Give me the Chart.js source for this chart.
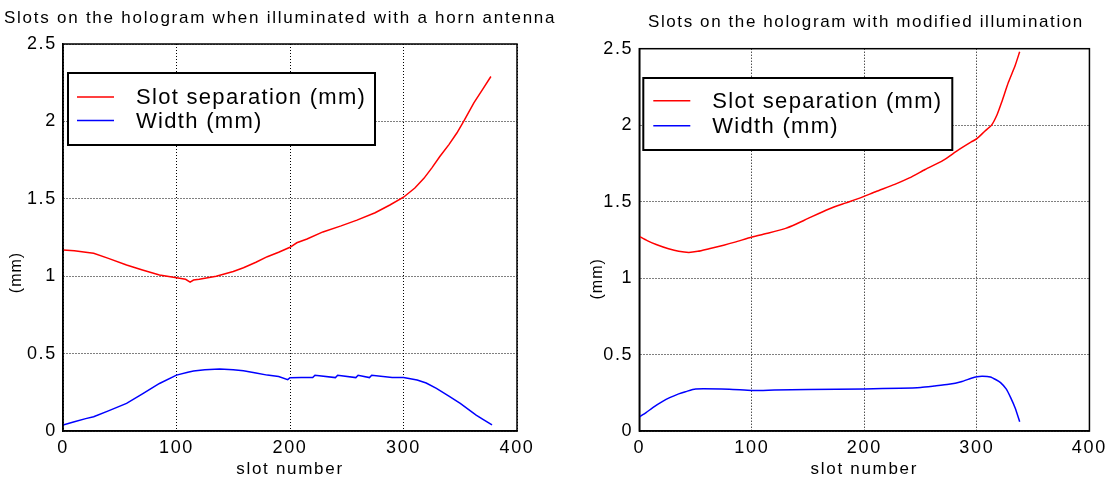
<!DOCTYPE html>
<html>
<head>
<meta charset="utf-8">
<script src="https://cdn.jsdelivr.net/npm/chart.js@4"></script>
<style>
    html, body { margin: 0; padding: 0; background: #fff; }
    #wrap { position: relative; width: 1113px; height: 478px; }
    .box { position: absolute; top: 0; height: 478px; }
</style>
</head>
<body>
<div id="wrap">
    <div class="box" style="left:0;width:560px"><canvas id="leftChart"></canvas></div>
    <div class="box" style="left:560px;width:553px"><canvas id="rightChart"></canvas></div>
</div>
<script>
// ---- data ----
const xTicks = [0, 100, 200, 300, 400];
const yTicks = [0, 0.5, 1, 1.5, 2, 2.5];

// left: horn antenna
const hornSepSlots = [0, 10, 20, 27, 40, 56, 70, 85, 100, 108, 112, 115, 120, 135, 150, 159, 170, 180, 190, 200, 206, 215, 229, 245, 259, 275, 288, 300, 310, 318, 325, 332, 340, 347, 353, 362, 370, 377];
const hornSep = [1.17, 1.165, 1.155, 1.148, 1.115, 1.072, 1.04, 1.008, 0.99, 0.98, 0.962, 0.975, 0.98, 1.0, 1.03, 1.055, 1.09, 1.126, 1.155, 1.187, 1.216, 1.24, 1.286, 1.325, 1.362, 1.41, 1.46, 1.51, 1.57, 1.632, 1.70, 1.773, 1.85, 1.925, 2.0, 2.12, 2.21, 2.29];
const hornWidthSlots = [0, 10, 20, 27, 40, 56, 70, 85, 100, 110, 115, 125, 138, 150, 159, 170, 180, 190, 198, 200, 210, 220, 222, 240, 242, 258, 260, 270, 272, 290, 300, 312, 320, 329, 340, 350, 364, 370, 378];
const hornWidth = [0.039, 0.06, 0.08, 0.092, 0.13, 0.178, 0.24, 0.307, 0.361, 0.38, 0.387, 0.395, 0.40, 0.396, 0.389, 0.375, 0.361, 0.352, 0.332, 0.344, 0.345, 0.345, 0.36, 0.345, 0.36, 0.345, 0.36, 0.345, 0.36, 0.345, 0.345, 0.329, 0.31, 0.275, 0.225, 0.178, 0.103, 0.075, 0.039];

// right: modified illumination
const modSepSlots = [0, 7, 15, 26, 35, 44, 52, 62, 75, 85, 100, 115, 130, 139, 150, 168, 183, 197, 210, 227, 240, 254, 270, 283, 295, 300, 307, 313, 318, 322, 328, 334, 338];
const modSep = [1.273, 1.245, 1.22, 1.192, 1.175, 1.168, 1.175, 1.192, 1.215, 1.235, 1.268, 1.295, 1.325, 1.352, 1.39, 1.45, 1.49, 1.526, 1.565, 1.613, 1.655, 1.71, 1.77, 1.835, 1.89, 1.912, 1.96, 2.0, 2.07, 2.15, 2.28, 2.39, 2.48];
const modWidthSlots = [0, 6, 12, 20, 27, 35, 41, 50, 80, 100, 120, 150, 200, 232, 250, 262, 275, 286, 295, 300, 305, 312, 317, 321, 326, 330, 334, 338];
const modWidth = [0.092, 0.12, 0.153, 0.19, 0.218, 0.243, 0.257, 0.275, 0.273, 0.265, 0.268, 0.272, 0.275, 0.28, 0.285, 0.294, 0.305, 0.322, 0.345, 0.355, 0.358, 0.353, 0.335, 0.316, 0.275, 0.218, 0.15, 0.061];

const FONT = '"Liberation Sans", Arial, sans-serif';

const toPoints = (xs, ys) => xs.map((x, i) => ({ x: x, y: ys[i] }));

// MATLAB-ish wide text: set spacing after each canvas resize
const spacing = {
    id: 'spacing',
    beforeLayout(chart) { chart.ctx.letterSpacing = '1.7px'; },
    beforeDraw(chart) { chart.ctx.letterSpacing = '1.7px'; },
};

// boxed legend inside the plot
const boxLegend = {
    id: 'boxLegend',
    afterDraw(chart, args, opts) {
        const { ctx, chartArea } = chart;
        const x = chartArea.left + opts.dx;
        const y = chartArea.top + opts.dy;
        ctx.save();
        ctx.fillStyle = '#fff';
        ctx.fillRect(x, y, opts.w, opts.h);
        ctx.lineWidth = 2;
        ctx.strokeStyle = '#000';
        ctx.strokeRect(x, y, opts.w, opts.h);
        ctx.font = '22px ' + FONT;
        ctx.letterSpacing = '1.3px';
        ctx.textBaseline = 'alphabetic';
        chart.data.datasets.forEach((ds, i) => {
            const ly = y + opts.rowTop + i * opts.rowGap;
            ctx.strokeStyle = ds.borderColor;
            ctx.lineWidth = 1.5;
            ctx.beginPath();
            ctx.moveTo(x + opts.lineX, ly);
            ctx.lineTo(x + opts.lineX + 37, ly);
            ctx.stroke();
            ctx.fillStyle = '#000';
            ctx.fillText(ds.label, x + opts.textX, ly + 7);
        });
        ctx.restore();
    }
};

// full frame, title and rotated y label
const frame = {
    id: 'frame',
    afterDraw(chart, args, opts) {
        const { ctx, chartArea } = chart;
        ctx.save();
        ctx.lineWidth = 1.5;
        ctx.strokeStyle = '#000';
        ctx.strokeRect(chartArea.left, chartArea.top, chartArea.right - chartArea.left, chartArea.bottom - chartArea.top);

        ctx.fillStyle = '#000';
        ctx.font = '17px ' + FONT;
        ctx.letterSpacing = opts.titleSpacing;
        ctx.textAlign = 'left';
        ctx.textBaseline = 'middle';
        ctx.fillText(opts.title, opts.titleX, opts.titleY);

        ctx.translate(chartArea.left + opts.labelDx, (chartArea.top + chartArea.bottom) / 2 + opts.labelDy);
        ctx.rotate(-Math.PI / 2);
        ctx.font = '16px ' + FONT;
        ctx.letterSpacing = '1px';
        ctx.textAlign = 'center';
        ctx.fillText(opts.label, 0, 0);
        ctx.restore();
    }
};

function makeChart(canvasId, cfg) {
    const ctx = document.getElementById(canvasId).getContext('2d');
    return new Chart(ctx, {
        type: 'line',
        data: {
            datasets: [
                {
                    label: 'Slot separation (mm)',
                    data: toPoints(cfg.sepSlots, cfg.sep),
                    borderColor: '#ff0000',
                    borderWidth: 1.5,
                    pointRadius: 0,
                    tension: cfg.tension,
                },
                {
                    label: 'Width (mm)',
                    data: toPoints(cfg.widthSlots, cfg.width),
                    borderColor: '#0000ff',
                    borderWidth: 1.5,
                    pointRadius: 0,
                    tension: cfg.tension,
                },
            ],
        },
        options: {
            responsive: true,
            maintainAspectRatio: false,
            animation: false,
            layout: { padding: { top: cfg.padTop, right: cfg.padRight, bottom: 0, left: 0 } },
            plugins: {
                legend: { display: false },
                tooltip: { enabled: false },
                title: { display: false },
                boxLegend: cfg.legend,
                frame: {
                    title: cfg.title, titleX: cfg.titleX, titleY: cfg.titleY, titleSpacing: cfg.titleSpacing,
                    label: '(mm)', labelDx: cfg.labelDx, labelDy: cfg.labelDy,
                },
            },
            scales: {
                x: {
                    type: 'linear',
                    min: 0,
                    max: 400,
                    afterBuildTicks: (scale) => { scale.ticks = xTicks.map((v) => ({ value: v })); },
                    afterFit: (scale) => { scale.height = 47; },
                    grid: { color: '#000', lineWidth: 1, drawTicks: false },
                    border: { display: true, color: '#000', width: 1.5, dash: [1, 2] },
                    ticks: { color: '#000', padding: 6, font: { family: FONT, size: 18 }, callback: (v) => String(v) },
                    title: {
                        display: true,
                        text: 'slot number',
                        color: '#000',
                        font: { family: FONT, size: 17, lineHeight: 1.0 },
                        padding: { top: 0, bottom: 0 },
                    },
                },
                y: {
                    min: 0,
                    max: 2.5,
                    afterBuildTicks: (scale) => { scale.ticks = yTicks.map((v) => ({ value: v })); },
                    afterFit: (scale) => { scale.width = cfg.yWidth; },
                    grid: { color: '#000', lineWidth: 1, drawTicks: false },
                    border: { display: true, color: '#000', width: 1.5, dash: [1, 2] },
                    ticks: { color: '#000', padding: 6, font: { family: FONT, size: 18 }, callback: (v) => String(v) },
                },
            },
        },
        plugins: [spacing, boxLegend, frame],
    });
}

makeChart('leftChart', {
    title: 'Slots on the hologram when illuminated with a horn antenna',
    titleX: 4, titleY: 18, titleSpacing: '1.75px',
    padTop: 44,
    padRight: 43,
    yWidth: 63,
    tension: 0,
    sepSlots: hornSepSlots, sep: hornSep,
    widthSlots: hornWidthSlots, width: hornWidth,
    legend: { dx: 5, dy: 29, w: 307, h: 72, rowTop: 24, rowGap: 23.5, lineX: 9, textX: 68 },
    labelDx: -46, labelDy: 35,
});

makeChart('rightChart', {
    title: 'Slots on the hologram with modified illumination',
    titleX: 88, titleY: 22, titleSpacing: '1.6px',
    padTop: 48.7,
    padRight: 21,
    yWidth: 79.3,
    tension: 0.2,
    sepSlots: modSepSlots, sep: modSep,
    widthSlots: modWidthSlots, width: modWidth,
    legend: { dx: 4, dy: 29.3, w: 309, h: 72, rowTop: 22.7, rowGap: 25, lineX: 10, textX: 69 },
    labelDx: -42, labelDy: 39,
});
</script>
</body>
</html>
